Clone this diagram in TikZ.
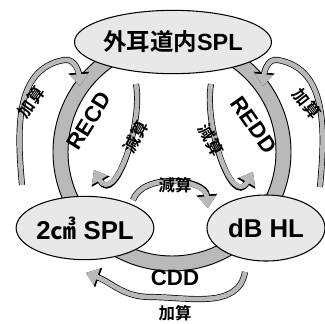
\documentclass[tikz,border=0pt]{standalone}
\usepackage{fontspec}
\setmainfont{Liberation Sans}
\newfontfamily\jp{Noto Sans CJK JP}[BoldFont={Noto Sans CJK JP Bold}]
\usetikzlibrary{%
        arrows.meta,
        shapes.geometric
    }
\tikzset{
    bubble/.style={ellipse, draw=black, line width=0.9pt, fill=gray!18, inner sep=0pt},
    bigarrow/.style={line width=4pt, draw=gray!55, -{Triangle[width=15pt,length=10pt]},
        preaction={draw=black, line width=5.2pt, -{Triangle[width=17pt,length=11.5pt]}}},
    sumlabel/.style={font=\jp\bfseries\fontsize{14}{14}\selectfont, inner sep=1pt},
    bandlabel/.style={font=\bfseries\fontsize{19}{19}\selectfont, inner sep=1pt}
}

\begin{document}
\begin{tikzpicture}[x=0.03cm, y=-0.03cm]

    \useasboundingbox (0,0) rectangle (325,323);

    % gray ring
    \fill[gray!55, draw=black, line width=0.8pt, even odd rule]
        (172,152) circle[radius=119] (172,152) circle[radius=104];

    \node[bubble, minimum width=4.62cm, minimum height=1.9cm] (ear) at (173,42)
        {\fontsize{20}{20}\selectfont\bfseries{\jp 外耳道内}SPL};
    \node[bubble, minimum width=3.9cm, minimum height=1.9cm] (coupler) at (85,228)
        {\fontsize{22}{22}\selectfont\bfseries 2{\jp ㎤} SPL};
    \node[bubble, minimum width=3.54cm, minimum height=1.98cm] (dial) at (266,228)
        {\fontsize{22}{22}\selectfont\bfseries dB HL};

    % outer arrows
    \draw[bigarrow] (22,185) to[out=95, in=190] (64,60) to[out=10, in=95] (80,86);
    \draw[bigarrow] (320,187) to[out=85, in=-10] (278,60) to[out=170, in=85] (263,86);
    \draw[bigarrow] (245,272) to[out=-100, in=0] (150,297) to[out=180, in=-20] (86,273);

    % inner arrows
    \draw[bigarrow] (136,84) to[out=-80, in=-60, looseness=1.1] (94,170);
    \draw[bigarrow] (211,84) to[out=-100, in=-120, looseness=1.1] (253,172);
    \draw[bigarrow] (133,200) to[out=70, in=95] (208,208);

    \node[bandlabel, rotate=58] (recd) at (89,121) {RECD};
    \node[bandlabel, rotate=-55] (redd) at (254,125) {REDD};
    \node[bandlabel] (cdd) at (175,278) {CDD};

    \node[sumlabel, rotate=55] (addl) at (31,102) {加算};
    \node[sumlabel, rotate=-52] (addr) at (307,104) {加算};
    \node[sumlabel] (addb) at (175,313) {加算};
    \node[sumlabel, rotate=62] (subl) at (136,137) {減算};
    \node[sumlabel, rotate=-60] (subr) at (211,140) {減算};
    \node[sumlabel] (subb) at (175,185) {減算};

\end{tikzpicture}
\end{document}
